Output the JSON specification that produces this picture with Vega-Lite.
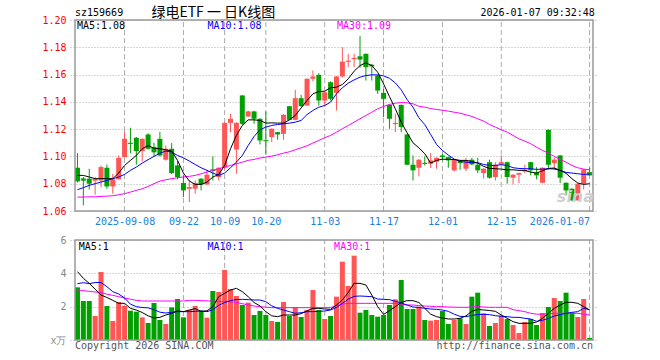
{
"$schema": "https://vega.github.io/schema/vega-lite/v6.json",
"width": 528, "height": 320,
"autosize": {"type": "none"},
"padding": {"left": 70, "top": 20, "right": 62, "bottom": 20},
"background": "white",
"config": {"view": {"stroke": null}, "font": "DejaVu Sans Mono", "axis": {"title": null}},
"data": {"values": [
{"i":0,"o":1.0917,"h":1.1024,"l":1.081,"c":1.0817,"v":3.16,"m5":1.0861,"m10":1.0756,"m30":1.0702,"vm5":4.1,"vm10":3.38,"vm30":3.0},
{"i":1,"o":1.0839,"h":1.085,"l":1.0641,"c":1.0822,"v":2.34,"m5":1.0861,"m10":1.0771,"m30":1.0702,"vm5":3.7,"vm10":3.44,"vm30":2.96},
{"i":2,"o":1.0837,"h":1.091,"l":1.0758,"c":1.08,"v":2.34,"m5":1.0849,"m10":1.0788,"m30":1.0704,"vm5":3.4,"vm10":3.38,"vm30":2.92},
{"i":3,"o":1.0822,"h":1.085,"l":1.072,"c":1.0837,"v":1.44,"m5":1.0837,"m10":1.08,"m30":1.0704,"vm5":3.05,"vm10":3.45,"vm30":2.88},
{"i":4,"o":1.0824,"h":1.0934,"l":1.0775,"c":1.0922,"v":4.08,"m5":1.0837,"m10":1.0812,"m30":1.0707,"vm5":2.7,"vm10":3.45,"vm30":2.84},
{"i":5,"o":1.0917,"h":1.094,"l":1.0763,"c":1.078,"v":2.04,"m5":1.0837,"m10":1.0824,"m30":1.0709,"vm5":2.55,"vm10":3.2,"vm30":2.75},
{"i":6,"o":1.078,"h":1.0873,"l":1.0727,"c":1.0832,"v":1.14,"m5":1.0837,"m10":1.0837,"m30":1.0712,"vm5":2.38,"vm10":2.9,"vm30":2.68},
{"i":7,"o":1.0832,"h":1.1007,"l":1.083,"c":1.099,"v":2.28,"m5":1.0878,"m10":1.0849,"m30":1.0719,"vm5":2.2,"vm10":2.76,"vm30":2.6},
{"i":8,"o":1.0995,"h":1.1185,"l":1.099,"c":1.1129,"v":2.04,"m5":1.0934,"m10":1.0868,"m30":1.0727,"vm5":2.2,"vm10":2.52,"vm30":2.52},
{"i":9,"o":1.11,"h":1.121,"l":1.1024,"c":1.1092,"v":1.76,"m5":1.0971,"m10":1.0898,"m30":1.0739,"vm5":1.9,"vm10":2.15,"vm30":2.45},
{"i":10,"o":1.1137,"h":1.1142,"l":1.094,"c":1.1039,"v":1.7,"m5":1.1007,"m10":1.0922,"m30":1.0751,"vm5":1.8,"vm10":2.0,"vm30":2.38},
{"i":11,"o":1.1039,"h":1.1132,"l":1.0963,"c":1.1129,"v":1.36,"m5":1.1056,"m10":1.0951,"m30":1.0763,"vm5":1.65,"vm10":1.95,"vm30":2.34},
{"i":12,"o":1.1161,"h":1.117,"l":1.105,"c":1.1056,"v":1.02,"m5":1.108,"m10":1.0976,"m30":1.078,"vm5":1.45,"vm10":1.93,"vm30":2.34},
{"i":13,"o":1.1068,"h":1.11,"l":1.1,"c":1.103,"v":2.22,"m5":1.106,"m10":1.1,"m30":1.08,"vm5":1.32,"vm10":1.82,"vm30":2.34},
{"i":14,"o":1.1129,"h":1.118,"l":1.1,"c":1.1007,"v":1.2,"m5":1.1056,"m10":1.1024,"m30":1.0819,"vm5":1.36,"vm10":1.67,"vm30":2.34},
{"i":15,"o":1.0976,"h":1.108,"l":1.097,"c":1.1056,"v":0.96,"m5":1.1049,"m10":1.1039,"m30":1.0829,"vm5":1.5,"vm10":1.62,"vm30":2.34},
{"i":16,"o":1.1056,"h":1.1098,"l":1.087,"c":1.0878,"v":1.96,"m5":1.1039,"m10":1.1032,"m30":1.0837,"vm5":1.6,"vm10":1.66,"vm30":2.34},
{"i":17,"o":1.0934,"h":1.0966,"l":1.0832,"c":1.0849,"v":2.46,"m5":1.0971,"m10":1.1007,"m30":1.0844,"vm5":1.75,"vm10":1.7,"vm30":2.34},
{"i":18,"o":1.0805,"h":1.0861,"l":1.0702,"c":1.0751,"v":1.36,"m5":1.0878,"m10":1.099,"m30":1.0849,"vm5":1.7,"vm10":1.7,"vm30":2.34},
{"i":19,"o":1.0763,"h":1.0824,"l":1.0666,"c":1.0776,"v":1.8,"m5":1.082,"m10":1.0966,"m30":1.0854,"vm5":1.8,"vm10":1.7,"vm30":2.38},
{"i":20,"o":1.0763,"h":1.0824,"l":1.0727,"c":1.0805,"v":2.04,"m5":1.0795,"m10":1.0941,"m30":1.0861,"vm5":1.88,"vm10":1.72,"vm30":2.38},
{"i":21,"o":1.0837,"h":1.084,"l":1.0751,"c":1.0795,"v":1.75,"m5":1.0795,"m10":1.0917,"m30":1.0873,"vm5":1.72,"vm10":1.74,"vm30":2.36},
{"i":22,"o":1.0795,"h":1.0902,"l":1.079,"c":1.0866,"v":1.34,"m5":1.0812,"m10":1.0898,"m30":1.0885,"vm5":1.75,"vm10":1.7,"vm30":2.35},
{"i":23,"o":1.0905,"h":1.1,"l":1.0824,"c":1.0893,"v":2.94,"m5":1.0849,"m10":1.0878,"m30":1.0898,"vm5":2.0,"vm10":1.82,"vm30":2.33},
{"i":24,"o":1.0849,"h":1.092,"l":1.0824,"c":1.0917,"v":2.88,"m5":1.0868,"m10":1.0861,"m30":1.091,"vm5":2.6,"vm10":2.08,"vm30":2.32},
{"i":25,"o":1.0917,"h":1.125,"l":1.0905,"c":1.1246,"v":4.2,"m5":1.0934,"m10":1.0878,"m30":1.0922,"vm5":2.8,"vm10":2.25,"vm30":2.3},
{"i":26,"o":1.1246,"h":1.1312,"l":1.1178,"c":1.1276,"v":3.06,"m5":1.1056,"m10":1.0917,"m30":1.0934,"vm5":3.0,"vm10":2.36,"vm30":2.3},
{"i":27,"o":1.1051,"h":1.125,"l":1.0873,"c":1.1246,"v":2.64,"m5":1.1154,"m10":1.0958,"m30":1.0946,"vm5":3.1,"vm10":2.43,"vm30":2.25},
{"i":28,"o":1.1447,"h":1.145,"l":1.123,"c":1.1239,"v":2.1,"m5":1.1227,"m10":1.1007,"m30":1.0958,"vm5":2.9,"vm10":2.44,"vm30":2.18},
{"i":29,"o":1.1293,"h":1.1335,"l":1.129,"c":1.133,"v":2.24,"m5":1.1268,"m10":1.108,"m30":1.0971,"vm5":2.6,"vm10":2.42,"vm30":2.1},
{"i":30,"o":1.133,"h":1.1335,"l":1.1239,"c":1.1276,"v":1.5,"m5":1.1268,"m10":1.1146,"m30":1.0978,"vm5":2.25,"vm10":2.4,"vm30":2.04},
{"i":31,"o":1.1276,"h":1.128,"l":1.1088,"c":1.1117,"v":1.74,"m5":1.1264,"m10":1.1195,"m30":1.0988,"vm5":2.05,"vm10":2.4,"vm30":2.0},
{"i":32,"o":1.1119,"h":1.133,"l":1.102,"c":1.1111,"v":1.5,"m5":1.1244,"m10":1.1215,"m30":1.0995,"vm5":1.7,"vm10":2.3,"vm30":1.97},
{"i":33,"o":1.1142,"h":1.1205,"l":1.1105,"c":1.1203,"v":1.14,"m5":1.1246,"m10":1.1227,"m30":1.1002,"vm5":1.45,"vm10":2.05,"vm30":1.94},
{"i":34,"o":1.1178,"h":1.118,"l":1.1122,"c":1.1161,"v":1.08,"m5":1.1244,"m10":1.1234,"m30":1.1012,"vm5":1.4,"vm10":1.9,"vm30":1.94},
{"i":35,"o":1.1166,"h":1.131,"l":1.1122,"c":1.1305,"v":2.28,"m5":1.1244,"m10":1.1239,"m30":1.1024,"vm5":1.5,"vm10":1.8,"vm30":1.94},
{"i":36,"o":1.1368,"h":1.137,"l":1.1265,"c":1.1268,"v":1.44,"m5":1.1268,"m10":1.1244,"m30":1.1034,"vm5":1.5,"vm10":1.7,"vm30":1.94},
{"i":37,"o":1.1268,"h":1.1488,"l":1.1265,"c":1.1427,"v":1.98,"m5":1.13,"m10":1.1251,"m30":1.1049,"vm5":1.5,"vm10":1.6,"vm30":1.94},
{"i":38,"o":1.1427,"h":1.1451,"l":1.1365,"c":1.1368,"v":1.38,"m5":1.1356,"m10":1.1264,"m30":1.1063,"vm5":1.58,"vm10":1.64,"vm30":1.94},
{"i":39,"o":1.1373,"h":1.1572,"l":1.137,"c":1.1569,"v":1.8,"m5":1.141,"m10":1.1307,"m30":1.1078,"vm5":1.75,"vm10":1.7,"vm30":1.94},
{"i":40,"o":1.1569,"h":1.163,"l":1.155,"c":1.1586,"v":3.0,"m5":1.1459,"m10":1.1337,"m30":1.1098,"vm5":1.9,"vm10":1.7,"vm30":1.94},
{"i":41,"o":1.1598,"h":1.161,"l":1.1373,"c":1.141,"v":1.8,"m5":1.1476,"m10":1.1361,"m30":1.1117,"vm5":1.9,"vm10":1.72,"vm30":1.94},
{"i":42,"o":1.141,"h":1.1475,"l":1.1373,"c":1.1471,"v":1.26,"m5":1.1478,"m10":1.1373,"m30":1.1137,"vm5":1.86,"vm10":1.74,"vm30":1.94},
{"i":43,"o":1.1544,"h":1.155,"l":1.141,"c":1.1422,"v":1.44,"m5":1.1503,"m10":1.1398,"m30":1.1154,"vm5":1.84,"vm10":1.8,"vm30":1.95},
{"i":44,"o":1.1466,"h":1.159,"l":1.1337,"c":1.1586,"v":2.6,"m5":1.1508,"m10":1.1459,"m30":1.1178,"vm5":2.1,"vm10":1.95,"vm30":2.05},
{"i":45,"o":1.1586,"h":1.18,"l":1.158,"c":1.1695,"v":4.7,"m5":1.1527,"m10":1.1503,"m30":1.1203,"vm5":2.4,"vm10":2.2,"vm30":2.15},
{"i":46,"o":1.1693,"h":1.1752,"l":1.1654,"c":1.1702,"v":3.24,"m5":1.1569,"m10":1.1537,"m30":1.1227,"vm5":2.85,"vm10":2.45,"vm30":2.2},
{"i":47,"o":1.1713,"h":1.1752,"l":1.1654,"c":1.1722,"v":5.06,"m5":1.1625,"m10":1.1561,"m30":1.1251,"vm5":3.4,"vm10":2.62,"vm30":2.2},
{"i":48,"o":1.1734,"h":1.1883,"l":1.165,"c":1.171,"v":1.64,"m5":1.1666,"m10":1.1581,"m30":1.1276,"vm5":3.4,"vm10":2.64,"vm30":2.2},
{"i":49,"o":1.1752,"h":1.1755,"l":1.1556,"c":1.1654,"v":1.8,"m5":1.1686,"m10":1.1593,"m30":1.13,"vm5":3.3,"vm10":2.62,"vm30":2.2},
{"i":50,"o":1.1672,"h":1.1678,"l":1.1556,"c":1.166,"v":1.5,"m5":1.1666,"m10":1.1598,"m30":1.1324,"vm5":2.7,"vm10":2.6,"vm30":2.2},
{"i":51,"o":1.1593,"h":1.1596,"l":1.1459,"c":1.1483,"v":1.4,"m5":1.1617,"m10":1.1598,"m30":1.1349,"vm5":2.0,"vm10":2.46,"vm30":2.2},
{"i":52,"o":1.1466,"h":1.1495,"l":1.1288,"c":1.1422,"v":1.5,"m5":1.1532,"m10":1.159,"m30":1.1366,"vm5":1.54,"vm10":2.44,"vm30":2.2},
{"i":53,"o":1.1378,"h":1.138,"l":1.1203,"c":1.1276,"v":2.1,"m5":1.1439,"m10":1.1573,"m30":1.1381,"vm5":1.75,"vm10":2.42,"vm30":2.2},
{"i":54,"o":1.1237,"h":1.1312,"l":1.1178,"c":1.1246,"v":2.44,"m5":1.1349,"m10":1.1539,"m30":1.139,"vm5":2.0,"vm10":2.32,"vm30":2.2},
{"i":55,"o":1.1378,"h":1.138,"l":1.1178,"c":1.1215,"v":3.6,"m5":1.1251,"m10":1.1488,"m30":1.1395,"vm5":2.25,"vm10":2.22,"vm30":2.15},
{"i":56,"o":1.1161,"h":1.1165,"l":1.0935,"c":1.0939,"v":1.86,"m5":1.1173,"m10":1.1417,"m30":1.1393,"vm5":2.36,"vm10":2.1,"vm30":2.1},
{"i":57,"o":1.0939,"h":1.1007,"l":1.0824,"c":1.0898,"v":1.86,"m5":1.11,"m10":1.1361,"m30":1.1386,"vm5":2.36,"vm10":1.98,"vm30":2.1},
{"i":58,"o":1.0917,"h":1.098,"l":1.0854,"c":1.0976,"v":2.0,"m5":1.1063,"m10":1.1283,"m30":1.1368,"vm5":2.25,"vm10":1.95,"vm30":2.06},
{"i":59,"o":1.0953,"h":1.1,"l":1.0934,"c":1.0945,"v":1.2,"m5":1.102,"m10":1.1234,"m30":1.1361,"vm5":1.9,"vm10":1.9,"vm30":2.04},
{"i":60,"o":1.0946,"h":1.1024,"l":1.0915,"c":1.0971,"v":1.16,"m5":1.0951,"m10":1.1161,"m30":1.1351,"vm5":1.55,"vm10":1.86,"vm30":2.02},
{"i":61,"o":1.0961,"h":1.0993,"l":1.091,"c":1.099,"v":1.2,"m5":1.0971,"m10":1.1088,"m30":1.1344,"vm5":1.4,"vm10":1.84,"vm30":2.0},
{"i":62,"o":1.1007,"h":1.102,"l":1.097,"c":1.0995,"v":1.74,"m5":1.098,"m10":1.1044,"m30":1.1339,"vm5":1.32,"vm10":1.8,"vm30":2.0},
{"i":63,"o":1.0995,"h":1.0998,"l":1.0917,"c":1.0971,"v":0.96,"m5":1.0978,"m10":1.101,"m30":1.1332,"vm5":1.26,"vm10":1.72,"vm30":1.98},
{"i":64,"o":1.0898,"h":1.098,"l":1.089,"c":1.0976,"v":1.2,"m5":1.0978,"m10":1.098,"m30":1.1324,"vm5":1.26,"vm10":1.55,"vm30":1.97},
{"i":65,"o":1.0971,"h":1.0974,"l":1.0902,"c":1.0951,"v":1.3,"m5":1.0971,"m10":1.0963,"m30":1.1317,"vm5":1.3,"vm10":1.42,"vm30":1.96},
{"i":66,"o":1.091,"h":1.099,"l":1.0893,"c":1.0971,"v":0.96,"m5":1.0971,"m10":1.0958,"m30":1.1305,"vm5":1.45,"vm10":1.4,"vm30":1.96},
{"i":67,"o":1.0976,"h":1.099,"l":1.0938,"c":1.0941,"v":2.6,"m5":1.0963,"m10":1.0954,"m30":1.1293,"vm5":1.72,"vm10":1.47,"vm30":1.98},
{"i":68,"o":1.0939,"h":1.099,"l":1.0878,"c":1.0898,"v":2.84,"m5":1.0951,"m10":1.0954,"m30":1.1276,"vm5":1.84,"vm10":1.53,"vm30":2.0},
{"i":69,"o":1.0878,"h":1.0913,"l":1.0837,"c":1.091,"v":1.6,"m5":1.0927,"m10":1.0941,"m30":1.1259,"vm5":1.8,"vm10":1.54,"vm30":1.98},
{"i":70,"o":1.0958,"h":1.0976,"l":1.0837,"c":1.0844,"v":0.84,"m5":1.0912,"m10":1.0934,"m30":1.1234,"vm5":1.77,"vm10":1.52,"vm30":1.96},
{"i":71,"o":1.0849,"h":1.0958,"l":1.0824,"c":1.0939,"v":1.02,"m5":1.091,"m10":1.0934,"m30":1.1215,"vm5":1.72,"vm10":1.46,"vm30":1.96},
{"i":72,"o":1.0939,"h":1.1007,"l":1.0935,"c":1.0958,"v":1.46,"m5":1.0907,"m10":1.0939,"m30":1.1195,"vm5":1.5,"vm10":1.42,"vm30":1.96},
{"i":73,"o":1.0958,"h":1.0961,"l":1.08,"c":1.0849,"v":1.26,"m5":1.0902,"m10":1.0934,"m30":1.1178,"vm5":1.3,"vm10":1.4,"vm30":1.96},
{"i":74,"o":1.0844,"h":1.0869,"l":1.0795,"c":1.0866,"v":0.9,"m5":1.0902,"m10":1.0917,"m30":1.1154,"vm5":1.1,"vm10":1.36,"vm30":1.82},
{"i":75,"o":1.0866,"h":1.0881,"l":1.0805,"c":1.0878,"v":0.42,"m5":1.0898,"m10":1.0912,"m30":1.1129,"vm5":1.0,"vm10":1.36,"vm30":1.76},
{"i":76,"o":1.089,"h":1.0939,"l":1.0878,"c":1.0902,"v":1.08,"m5":1.0898,"m10":1.091,"m30":1.1112,"vm5":1.0,"vm10":1.3,"vm30":1.7},
{"i":77,"o":1.0958,"h":1.0961,"l":1.0861,"c":1.0898,"v":1.26,"m5":1.0885,"m10":1.091,"m30":1.1093,"vm5":1.0,"vm10":1.26,"vm30":1.6},
{"i":78,"o":1.088,"h":1.0922,"l":1.0832,"c":1.0861,"v":0.9,"m5":1.0878,"m10":1.0905,"m30":1.1068,"vm5":1.08,"vm10":1.12,"vm30":1.55},
{"i":79,"o":1.0807,"h":1.092,"l":1.0805,"c":1.0917,"v":1.62,"m5":1.0895,"m10":1.0907,"m30":1.1044,"vm5":1.3,"vm10":1.18,"vm30":1.55},
{"i":80,"o":1.1195,"h":1.1198,"l":1.0902,"c":1.0939,"v":1.98,"m5":1.0912,"m10":1.091,"m30":1.1024,"vm5":1.6,"vm10":1.3,"vm30":1.58},
{"i":81,"o":1.0951,"h":1.099,"l":1.0902,"c":1.0976,"v":2.52,"m5":1.0915,"m10":1.0908,"m30":1.1,"vm5":1.9,"vm10":1.44,"vm30":1.6},
{"i":82,"o":1.1007,"h":1.101,"l":1.0805,"c":1.0844,"v":2.34,"m5":1.0898,"m10":1.0898,"m30":1.0978,"vm5":2.1,"vm10":1.52,"vm30":1.6},
{"i":83,"o":1.0807,"h":1.081,"l":1.0714,"c":1.0751,"v":2.84,"m5":1.0876,"m10":1.0883,"m30":1.0958,"vm5":2.26,"vm10":1.6,"vm30":1.6},
{"i":84,"o":1.0763,"h":1.0766,"l":1.0673,"c":1.0678,"v":1.64,"m5":1.0837,"m10":1.0878,"m30":1.0934,"vm5":2.26,"vm10":1.66,"vm30":1.6},
{"i":85,"o":1.0678,"h":1.0803,"l":1.0675,"c":1.08,"v":1.38,"m5":1.0805,"m10":1.0873,"m30":1.0917,"vm5":2.2,"vm10":1.7,"vm30":1.6},
{"i":86,"o":1.08,"h":1.0908,"l":1.0758,"c":1.0905,"v":2.46,"m5":1.0795,"m10":1.0868,"m30":1.0907,"vm5":2.0,"vm10":1.9,"vm30":1.55},
{"i":87,"o":1.0885,"h":1.0917,"l":1.0858,"c":1.0861,"v":0.12,"m5":1.08,"m10":1.087,"m30":1.0902,"vm5":1.8,"vm10":1.82,"vm30":1.5}
]},
"layer": [
{
"layer": [
{
"data": {"values": [{"t":8},{"t":18},{"t":25},{"t":32},{"t":42},{"t":52},{"t":62},{"t":72},{"t":87}]},
"mark": {"type": "rule", "color": "#aaaaaa", "strokeWidth": 1, "strokeDash": [5, 3]},
"encoding": {
"x": {"field": "t", "type": "quantitative", "scale": {"domain": [-0.42, 87.58], "nice": false, "zero": false},
"axis": {"orient": "bottom", "offset": -129, "values": [8,18,25,32,42,52,62,72,87], "title": null, "domain": false, "ticks": false, "tickSize": 0, "grid": false, "labelPadding": 5, "labelFont": "DejaVu Sans Mono", "labelFontSize": 10, "labelColor": "#1a80d8", "labelOverlap": false, "labelFlush": false, "labelBound": false,
"labelAlign": {"condition": {"test": "datum.value == 87", "value": "right"}, "value": "center"},
"labelExpr": "['2025-09-08','09-22','10-09','10-20','11-03','11-17','12-01','12-15','2026-01-07'][indexof([8,18,25,32,42,52,62,72,87], datum.value)]"}},
"y": {"datum": 1.06, "type": "quantitative", "scale": {"domain": [1.06, 1.2], "range": [191, 0], "nice": false, "zero": false},
"axis": {"orient": "left", "values": [1.06,1.08,1.1,1.12,1.14,1.16,1.18,1.2], "format": ".2f", "title": null, "domain": false, "ticks": false, "tickSize": 0, "labelPadding": 4, "labelFont": "DejaVu Sans Mono", "labelFontSize": 10, "labelColor": "#ff0000", "labelOverlap": false, "labelFlush": false, "grid": true, "gridColor": "#b0b0b0", "gridDash": [1, 2], "gridWidth": 1}},
"y2": {"datum": 1.2}
}
},
{
"mark": {"type": "rule", "strokeWidth": 1},
"encoding": {
"x": {"field": "i", "type": "quantitative"},
"y": {"field": "l", "type": "quantitative"},
"y2": {"field": "h"},
"color": {"condition": {"test": "datum.c >= datum.o", "value": "#ff5555"}, "value": "#00a000"}
}
},
{
"mark": {"type": "bar", "width": 5},
"encoding": {
"x": {"field": "i", "type": "quantitative"},
"y": {"field": "o", "type": "quantitative"},
"y2": {"field": "c"},
"color": {"condition": {"test": "datum.c >= datum.o", "value": "#ff5555"}, "value": "#00a000"}
}
},
{
"mark": {"type": "line", "color": "#ff00ff", "strokeWidth": 1},
"encoding": {"x": {"field": "i", "type": "quantitative"}, "y": {"field": "m30", "type": "quantitative"}}
},
{
"mark": {"type": "line", "color": "#0000ff", "strokeWidth": 1},
"encoding": {"x": {"field": "i", "type": "quantitative"}, "y": {"field": "m10", "type": "quantitative"}}
},
{
"mark": {"type": "line", "color": "#000000", "strokeWidth": 1},
"encoding": {"x": {"field": "i", "type": "quantitative"}, "y": {"field": "m5", "type": "quantitative"}}
},
{
"data": {"values": [{}]},
"mark": {"type": "rect", "fill": null, "stroke": "#999999", "strokeWidth": 1.5},
"encoding": {"x": {"datum": -0.42, "type": "quantitative"}, "x2": {"datum": 87.58}, "y": {"datum": 1.06, "type": "quantitative"}, "y2": {"datum": 1.2}}
},
{
"data": {"values": [{}]},
"mark": {"type": "text", "align": "center", "baseline": "middle", "font": "DejaVu Sans", "fontSize": 16, "fontStyle": "italic", "fontWeight": "bold", "color": "#cfcfcf"},
"encoding": {"x": {"datum": 84.6, "type": "quantitative"}, "y": {"datum": 1.0703, "type": "quantitative"}, "text": {"value": "sina"}}
},
{
"data": {"values": [{}]},
"mark": {"type": "text", "align": "left", "baseline": "middle", "font": "DejaVu Sans Mono", "fontSize": 10, "color": "#000000"},
"encoding": {"x": {"datum": -0.1, "type": "quantitative"}, "y": {"datum": 1.1956, "type": "quantitative"}, "text": {"value": "MA5:1.08"}}
},
{
"data": {"values": [{}]},
"mark": {"type": "text", "align": "left", "baseline": "middle", "font": "DejaVu Sans Mono", "fontSize": 10, "color": "#0000ff"},
"encoding": {"x": {"datum": 22.08, "type": "quantitative"}, "y": {"datum": 1.1956, "type": "quantitative"}, "text": {"value": "MA10:1.08"}}
},
{
"data": {"values": [{}]},
"mark": {"type": "text", "align": "left", "baseline": "middle", "font": "DejaVu Sans Mono", "fontSize": 10, "color": "#ff00ff"},
"encoding": {"x": {"datum": 44.08, "type": "quantitative"}, "y": {"datum": 1.1956, "type": "quantitative"}, "text": {"value": "MA30:1.09"}}
},
{
"data": {"values": [{}]},
"mark": {"type": "text", "align": "left", "baseline": "middle", "font": "DejaVu Sans Mono", "fontSize": 10, "color": "#000000"},
"encoding": {"x": {"datum": -0.42, "type": "quantitative"}, "y": {"datum": 1.2051, "type": "quantitative"}, "text": {"value": "sz159669"}}
},
{
"data": {"values": [{}]},
"mark": {"type": "text", "align": "center", "baseline": "middle", "font": "Noto Sans CJK SC", "fontSize": 14, "color": "#000000"},
"encoding": {"x": {"datum": 23.08, "type": "quantitative"}, "y": {"datum": 1.2051, "type": "quantitative"}, "text": {"value": "绿电ETF 一 日K线图"}}
},
{
"data": {"values": [{}]},
"mark": {"type": "text", "align": "right", "baseline": "middle", "font": "DejaVu Sans Mono", "fontSize": 10, "color": "#000000"},
"encoding": {"x": {"datum": 87.9, "type": "quantitative"}, "y": {"datum": 1.2051, "type": "quantitative"}, "text": {"value": "2026-01-07 09:32:48"}}
}
]
},
{
"layer": [
{
"data": {"values": [{"t":8},{"t":18},{"t":25},{"t":32},{"t":42},{"t":52},{"t":62},{"t":72},{"t":87}]},
"mark": {"type": "rule", "color": "#aaaaaa", "strokeWidth": 1, "strokeDash": [5, 3]},
"encoding": {
"x": {"field": "t", "type": "quantitative"},
"y": {"datum": 0, "type": "quantitative", "scale": {"domain": [0, 6], "range": [320, 220], "nice": false, "zero": false},
"axis": {"orient": "left", "values": [0, 2, 4, 6], "title": null, "domain": false, "ticks": false, "tickSize": 0, "labelPadding": 4, "labelFont": "DejaVu Sans Mono", "labelFontSize": 10, "labelColor": "#888888", "labelOverlap": false, "labelFlush": false, "grid": true, "gridColor": "#b0b0b0", "gridDash": [1, 2], "gridWidth": 1,
"labelExpr": "datum.value == 0 ? 'x万' : datum.label"}},
"y2": {"datum": 6}
}
},
{
"mark": {"type": "bar", "width": 5},
"encoding": {
"x": {"field": "i", "type": "quantitative"},
"y": {"field": "v", "type": "quantitative"},
"color": {"condition": {"test": "datum.c >= datum.o", "value": "#ff5555"}, "value": "#00a000"}
}
},
{
"mark": {"type": "line", "color": "#ff00ff", "strokeWidth": 1},
"encoding": {"x": {"field": "i", "type": "quantitative"}, "y": {"field": "vm30", "type": "quantitative"}}
},
{
"mark": {"type": "line", "color": "#0000ff", "strokeWidth": 1},
"encoding": {"x": {"field": "i", "type": "quantitative"}, "y": {"field": "vm10", "type": "quantitative"}}
},
{
"mark": {"type": "line", "color": "#000000", "strokeWidth": 1},
"encoding": {"x": {"field": "i", "type": "quantitative"}, "y": {"field": "vm5", "type": "quantitative"}}
},
{
"data": {"values": [{}]},
"mark": {"type": "rect", "fill": null, "stroke": "#999999", "strokeWidth": 1.5},
"encoding": {"x": {"datum": -0.42, "type": "quantitative"}, "x2": {"datum": 87.58}, "y": {"datum": 0, "type": "quantitative"}, "y2": {"datum": 6}}
},
{
"data": {"values": [{}]},
"mark": {"type": "text", "align": "left", "baseline": "middle", "font": "DejaVu Sans Mono", "fontSize": 10, "color": "#000000"},
"encoding": {"x": {"datum": 0.2, "type": "quantitative"}, "y": {"datum": 5.6, "type": "quantitative"}, "text": {"value": "MA5:1"}}
},
{
"data": {"values": [{}]},
"mark": {"type": "text", "align": "left", "baseline": "middle", "font": "DejaVu Sans Mono", "fontSize": 10, "color": "#0000ff"},
"encoding": {"x": {"datum": 22.08, "type": "quantitative"}, "y": {"datum": 5.6, "type": "quantitative"}, "text": {"value": "MA10:1"}}
},
{
"data": {"values": [{}]},
"mark": {"type": "text", "align": "left", "baseline": "middle", "font": "DejaVu Sans Mono", "fontSize": 10, "color": "#ff00ff"},
"encoding": {"x": {"datum": 43.6, "type": "quantitative"}, "y": {"datum": 5.6, "type": "quantitative"}, "text": {"value": "MA30:1"}}
},
{
"data": {"values": [{}]},
"mark": {"type": "text", "align": "left", "baseline": "middle", "font": "DejaVu Sans Mono", "fontSize": 10, "color": "#555555"},
"encoding": {"x": {"datum": -0.42, "type": "quantitative"}, "y": {"datum": -0.35, "type": "quantitative"}, "text": {"value": "Copyright 2026 SINA.COM"}}
},
{
"data": {"values": [{}]},
"mark": {"type": "text", "align": "right", "baseline": "middle", "font": "DejaVu Sans Mono", "fontSize": 10, "color": "#555555"},
"encoding": {"x": {"datum": 87.58, "type": "quantitative"}, "y": {"datum": -0.35, "type": "quantitative"}, "text": {"value": "http://finance.sina.com.cn"}}
}
]
}
],
"resolve": {"scale": {"y": "independent"}, "axis": {"y": "independent"}}
}
